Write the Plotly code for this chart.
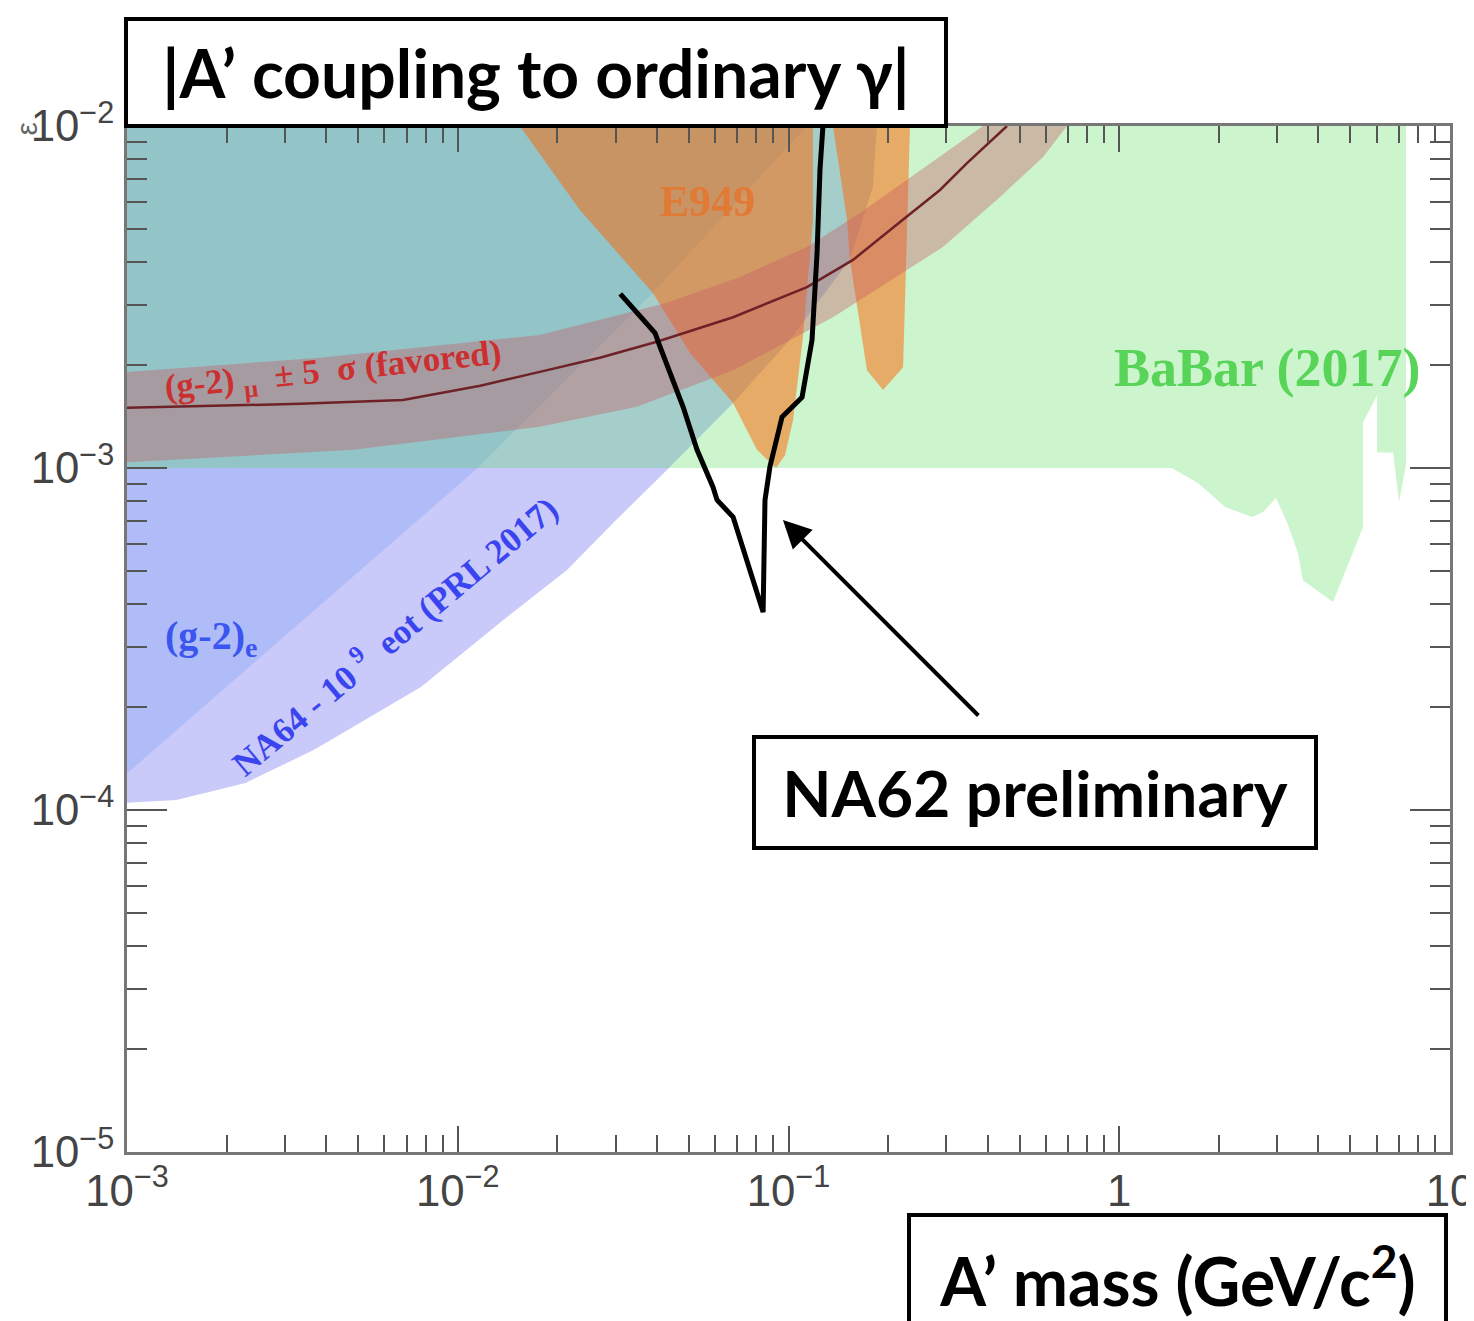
import math
import plotly.graph_objects as go

# ---------------- data (mass in GeV/c^2, coupling epsilon) ----------------
na64_x = [1.0e-3, 1.41e-3, 2.28e-3, 3.68e-3, 7.74e-3, 0.0137, 0.0214, 0.0295, 0.0429,
          0.068, 0.101, 0.153, 0.180, 0.185, 1.0e-3]
na64_y = [1.05e-4, 1.07e-4, 1.20e-4, 1.50e-4, 2.29e-4, 3.59e-4, 5.03e-4, 6.91e-4, 9.87e-4,
          1.55e-3, 2.37e-3, 4.06e-3, 6.63e-3, 1.0e-2, 1.0e-2]

g2e_x = [1.0e-3, 0.0115, 0.0389, 0.1137, 1.0e-3]
g2e_y = [1.28e-4, 1.0e-3, 3.25e-3, 1.0e-2, 1.0e-2]

babar_x = [1e-3, 1.44, 1.73, 2.09, 2.52, 2.72, 2.98, 3.22, 3.47, 3.59, 4.43, 5.46, 5.46,
           6.02, 6.02, 6.73, 7.01, 7.36, 7.36, 1e-3]
babar_y = [1e-3, 1e-3, 9.04e-4, 7.69e-4, 7.19e-4, 7.43e-4, 8.17e-4, 6.91e-4, 5.64e-4,
           4.70e-4, 4.06e-4, 6.72e-4, 1.36e-3, 1.63e-3, 1.11e-3, 1.11e-3, 7.95e-4,
           1.02e-3, 1e-2, 1e-2]

e949a_x = [0.0154, 0.0234, 0.0389, 0.0504, 0.068, 0.0803, 0.0917, 0.0976, 0.1032, 0.1106,
           0.1186, 0.1186]
e949a_y = [1e-2, 5.68e-3, 3.25e-3, 2.17e-3, 1.55e-3, 1.13e-3, 1.0e-3, 1.09e-3, 1.38e-3,
           2.42e-3, 5.31e-3, 1e-2]

e949b_x = [0.1363, 0.1503, 0.1534, 0.1727, 0.1931, 0.2220, 0.2330]
e949b_y = [1e-2, 5.31e-3, 4.06e-3, 1.93e-3, 1.69e-3, 1.97e-3, 1e-2]

band_up_x = [1e-3, 3.83e-3, 0.0177, 0.0269, 0.0429, 0.0714, 0.1137, 0.1645, 0.2282, 0.2871, 0.3874]
band_up_y = [1.91e-3, 2.10e-3, 2.45e-3, 2.71e-3, 3.04e-3, 3.62e-3, 4.43e-3, 5.57e-3, 6.95e-3,
             8.12e-3, 1e-2]
band_lo_x = [1e-3, 4.83e-3, 0.0177, 0.0348, 0.068, 0.1363, 0.2282, 0.2931, 0.4361, 0.5884, 0.695]
band_lo_y = [1.04e-3, 1.13e-3, 1.32e-3, 1.51e-3, 1.93e-3, 2.76e-3, 3.79e-3, 4.43e-3, 6.20e-3,
             8.12e-3, 1e-2]
band_c_x = [1e-3, 3.34e-3, 6.83e-3, 0.0117, 0.0177, 0.0269, 0.0400, 0.068, 0.1137, 0.1567,
            0.2174, 0.2871, 0.3465, 0.4577]
band_c_y = [1.50e-3, 1.54e-3, 1.58e-3, 1.74e-3, 1.91e-3, 2.10e-3, 2.34e-3, 2.76e-3, 3.38e-3,
            4.06e-3, 5.24e-3, 6.50e-3, 7.79e-3, 1e-2]

na62_x = [0.0310, 0.0395, 0.0409, 0.0480, 0.0529, 0.0591, 0.0608, 0.0680, 0.0838, 0.0849,
          0.0879, 0.0956, 0.1099, 0.1178, 0.1220, 0.1245, 0.1271]
na62_y = [3.23e-3, 2.48e-3, 2.26e-3, 1.51e-3, 1.13e-3, 8.80e-4, 8.06e-4, 7.19e-4, 3.79e-4,
          8.06e-4, 1.01e-3, 1.41e-3, 1.61e-3, 2.37e-3, 4.25e-3, 7.44e-3, 1e-2]

# label anchor points (mass, coupling)
arrow_head = (0.0962, 7.05e-4)
arrow_tail = (0.379, 1.87e-4)
lbl_e949 = (0.0567, 6.03e-3)
lbl_babar = (2.80, 1.96e-3)
lbl_g2mu = (4.20e-3, 1.91e-3)
lbl_g2e = (1.80e-3, 3.18e-4)
lbl_na64 = (6.40e-3, 3.25e-4)

# ---------------- figure ----------------
fig = go.Figure()

def poly(x, y, color):
    fig.add_trace(go.Scatter(x=x, y=y, mode="lines", fill="toself", fillcolor=color,
                             line=dict(width=0), hoverinfo="skip", showlegend=False))

poly(na64_x, na64_y, "rgba(75,75,240,0.30)")
poly(g2e_x, g2e_y, "rgba(118,158,242,0.30)")
poly(babar_x, babar_y, "rgba(73,219,80,0.28)")
poly(e949a_x, e949a_y, "rgba(255,100,0,0.50)")
poly(e949b_x, e949b_y, "rgba(255,100,0,0.50)")
poly(band_up_x + band_lo_x[::-1], band_up_y + band_lo_y[::-1], "rgba(200,90,100,0.38)")

fig.add_trace(go.Scatter(x=band_c_x, y=band_c_y, mode="lines",
                         line=dict(color="#6e2228", width=2.5), hoverinfo="skip", showlegend=False))
fig.add_trace(go.Scatter(x=na62_x, y=na62_y, mode="lines",
                         line=dict(color="black", width=5), hoverinfo="skip", showlegend=False))

L = math.log10
serif = "Liberation Serif"
ann = []
ann.append(dict(x=L(lbl_e949[0]), y=L(lbl_e949[1]), text="<b>E949</b>", showarrow=False,
                font=dict(family=serif, size=44, color="#e07a35")))
ann.append(dict(x=L(lbl_babar[0]), y=L(lbl_babar[1]), text="<b>BaBar (2017)</b>", showarrow=False,
                font=dict(family=serif, size=54, color="#58d458")))
ann.append(dict(x=L(lbl_g2mu[0]), y=L(lbl_g2mu[1]),
                text="<b>(g-2) <sub>μ</sub>  ± 5  σ (favored)</b>", showarrow=False, textangle=-6,
                font=dict(family=serif, size=35, color="#cc2f2f")))
ann.append(dict(x=L(lbl_g2e[0]), y=L(lbl_g2e[1]), text="<b>(g-2)<sub>e</sub></b>", showarrow=False,
                font=dict(family=serif, size=40, color="#3a55f0")))
ann.append(dict(x=L(lbl_na64[0]), y=L(lbl_na64[1]),
                text="<b>NA64 - 10 <sup>9</sup>  eot (PRL 2017)</b>", showarrow=False, textangle=-40,
                font=dict(family=serif, size=35, color="#3a45f0")))
# arrow
ann.append(dict(x=L(arrow_head[0]), y=L(arrow_head[1]), ax=L(arrow_tail[0]), ay=L(arrow_tail[1]),
                axref="x", ayref="y", xref="x", yref="y", text="", showarrow=True,
                arrowhead=2, arrowsize=1.4, arrowwidth=4, arrowcolor="black", standoff=0))
# boxed labels
box_font = dict(family="Lato", size=66, color="black")
ann.append(dict(xref="paper", yref="paper", x=0.3091, y=1.0521, xanchor="center", yanchor="middle",
                text="<b>|A’ coupling to ordinary γ|</b>", showarrow=False, font=box_font,
                bgcolor="white", bordercolor="black", borderwidth=4, borderpad=3,
                width=810, height=97))
ann.append(dict(xref="paper", yref="paper", x=0.6863, y=0.3504, xanchor="center", yanchor="middle",
                text="<b>NA62 preliminary</b>", showarrow=False,
                font=dict(family="Lato", size=64, color="black"),
                bgcolor="white", bordercolor="black", borderwidth=4, borderpad=3,
                width=552, height=101))
ann.append(dict(xref="paper", yref="paper", x=0.7940, y=-0.0595, xanchor="center", yanchor="top",
                text="<b>A’ mass (GeV/c<sup>2</sup>)</b>", showarrow=False, font=box_font,
                bgcolor="white", bordercolor="black", borderwidth=4, borderpad=3,
                width=527, height=112))
# partially hidden y-axis title
ann.append(dict(xref="paper", yref="paper", x=-0.0760, y=0.997, xanchor="center", yanchor="middle",
                text="ε", showarrow=False, textangle=-90,
                font=dict(family="Liberation Sans", size=30, color="#666")))

tickfont = dict(family="Liberation Sans", size=35, color="#444")
common = dict(type="log", showgrid=False, zeroline=False, showline=True, linecolor="#777",
              linewidth=2.5, mirror="allticks", ticks="inside", tickcolor="#555", tickwidth=1.5,
              dtick=1, exponentformat="power", tickfont=tickfont, ticklabeloverflow="allow",
              automargin=False)
fig.update_xaxes(range=[-3, 1], ticklen=26,
                 minor=dict(ticks="inside", ticklen=17, tickcolor="#555", tickwidth=1.5, dtick="D1"),
                 **common)
fig.update_yaxes(range=[-5, -2], ticklen=40, ticklabelstandoff=3,
                 minor=dict(ticks="inside", ticklen=20, tickcolor="#555", tickwidth=1.5, dtick="D1"),
                 **common)

# the page body adds an 8px margin; margins compensate so the plot area lands in place
fig.update_layout(width=1466, height=1313, margin=dict(l=119, r=24, t=118, b=169, autoexpand=False),
                  plot_bgcolor="white", paper_bgcolor="white", annotations=ann,
                  showlegend=False)

fig.write_html("out.html")
